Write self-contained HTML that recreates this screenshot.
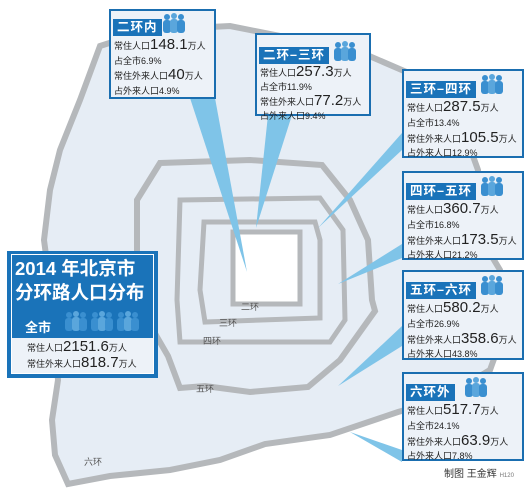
<!DOCTYPE html>
<html><head><meta charset="utf-8">
<style>
body{margin:0;width:530px;height:494px;overflow:hidden;background:#fff;font-family:"Liberation Sans","Noto Sans CJK SC",sans-serif;color:#222;}
#wrap{position:relative;width:530px;height:494px;}
svg{position:absolute;left:0;top:0;}
.box{position:absolute;background:#edf2f8;border:2px solid #1a6eb0;box-sizing:border-box;}
.hd{position:absolute;left:2px;top:8px;background:#1a73b9;color:#fff;font-weight:bold;font-size:12.5px;line-height:17px;padding:0 4px;letter-spacing:1px;}
.ic{position:absolute;top:2px;}
.ln{position:absolute;left:3px;font-size:9px;white-space:nowrap;line-height:12px;}
.ln b{font-weight:normal;font-size:15px;}
.ringlbl{position:absolute;font-size:9px;color:#555;}
</style></head><body>
<div id="wrap">
<svg width="530" height="494">
<defs>
<g id="ppl">
<circle cx="5" cy="4" r="3" fill="#3a8fd0"/><rect x="1" y="7" width="8" height="13" rx="3" fill="#3a8fd0"/>
<circle cx="12" cy="3" r="3" fill="#5aa6dc"/><rect x="8" y="6" width="8" height="14" rx="3" fill="#5aa6dc"/>
<circle cx="19" cy="4" r="3" fill="#3a8fd0"/><rect x="15" y="7" width="8" height="13" rx="3" fill="#3a8fd0"/>
</g>
</defs>
<path d="M100,46 L150,30 L230,26 L300,40 L360,52 L425,80 L460,120 L478,170 L482,240 L500,270 L508,320 L490,370 L440,400 L398,412 L330,435 L265,444 L220,460 L170,470 L110,476 L68,484 L55,455 L52,420 L58,380 L52,300 L44,240 L50,190 L60,150 L80,100 Z" fill="#e6edf5" stroke="#b5b8bb" stroke-width="6"/>
<path d="M160,163 L250,160 L322,165 L350,200 L368,240 L372,300 L375,311 L340,360 L308,387 L250,392 L205,386 L180,388 L168,356 L157,337 L137,300 L137,200 Z" fill="none" stroke="#b5b8bb" stroke-width="6"/>
<path d="M180,200 L320,198 L343,230 L345,320 L330,342 L180,342 L177,300 Z" fill="none" stroke="#b5b8bb" stroke-width="5"/>
<path d="M204,222 L315,222 L320,240 L320,318 L205,322 L200,290 Z" fill="none" stroke="#b5b8bb" stroke-width="5"/>
<rect x="233" y="232" width="67" height="72" fill="#fff" stroke="#b5b8bb" stroke-width="5"/>
<g fill="#7fc4e8">
<polygon points="190,98 215,98 247,272"/>
<polygon points="268,115 292,115 256,228"/>
<polygon points="402,133 402,150 318,228"/>
<polygon points="402,244 402,258 338,284"/>
<polygon points="402,326 402,346 338,386"/>
<polygon points="402,450 402,462 350,432"/>
</g>
</svg>
<div class="ringlbl" style="left:241px;top:300px">二环</div>
<div class="ringlbl" style="left:219px;top:316px">三环</div>
<div class="ringlbl" style="left:203px;top:334px">四环</div>
<div class="ringlbl" style="left:196px;top:382px">五环</div>
<div class="ringlbl" style="left:84px;top:455px">六环</div>

<div class="box" style="left:109px;top:9px;width:107px;height:90px">
<div class="hd">二环内</div>
<svg class="ic" style="left:51px" width="24" height="22"><use href="#ppl"/></svg>
<div class="ln" style="top:28px">常住人口<b>148.1</b>万人</div>
<div class="ln" style="top:44px">占全市6.9%</div>
<div class="ln" style="top:58px">常住外来人口<b>40</b>万人</div>
<div class="ln" style="top:74px">占外来人口4.9%</div>
</div>

<div class="box" style="left:255px;top:33px;width:116px;height:83px">
<div class="hd" style="top:12px">二环–三环</div>
<svg class="ic" style="left:76px;top:6px" width="24" height="22"><use href="#ppl"/></svg>
<div class="ln" style="top:31px">常住人口<b>257.3</b>万人</div>
<div class="ln" style="top:46px">占全市11.9%</div>
<div class="ln" style="top:60px">常住外来人口<b>77.2</b>万人</div>
<div class="ln" style="top:75px">占外来人口9.4%</div>
</div>

<div class="box" style="left:402px;top:69px;width:122px;height:89px">
<div class="hd" style="top:10px">三环–四环</div>
<svg class="ic" style="left:76px;top:3px" width="24" height="22"><use href="#ppl"/></svg>
<div class="ln" style="top:30px">常住人口<b>287.5</b>万人</div>
<div class="ln" style="top:46px">占全市13.4%</div>
<div class="ln" style="top:61px">常住外来人口<b>105.5</b>万人</div>
<div class="ln" style="top:76px">占外来人口12.9%</div>
</div>

<div class="box" style="left:402px;top:171px;width:122px;height:89px">
<div class="hd" style="top:10px">四环–五环</div>
<svg class="ic" style="left:76px;top:3px" width="24" height="22"><use href="#ppl"/></svg>
<div class="ln" style="top:30px">常住人口<b>360.7</b>万人</div>
<div class="ln" style="top:46px">占全市16.8%</div>
<div class="ln" style="top:61px">常住外来人口<b>173.5</b>万人</div>
<div class="ln" style="top:76px">占外来人口21.2%</div>
</div>

<div class="box" style="left:402px;top:270px;width:122px;height:90px">
<div class="hd" style="top:10px">五环–六环</div>
<svg class="ic" style="left:76px;top:3px" width="24" height="22"><use href="#ppl"/></svg>
<div class="ln" style="top:30px">常住人口<b>580.2</b>万人</div>
<div class="ln" style="top:46px">占全市26.9%</div>
<div class="ln" style="top:61px">常住外来人口<b>358.6</b>万人</div>
<div class="ln" style="top:76px">占外来人口43.8%</div>
</div>

<div class="box" style="left:402px;top:372px;width:122px;height:89px">
<div class="hd" style="top:10px">六环外</div>
<svg class="ic" style="left:60px;top:3px" width="24" height="22"><use href="#ppl"/></svg>
<div class="ln" style="top:30px">常住人口<b>517.7</b>万人</div>
<div class="ln" style="top:46px">占全市24.1%</div>
<div class="ln" style="top:61px">常住外来人口<b>63.9</b>万人</div>
<div class="ln" style="top:76px">占外来人口7.8%</div>
</div>

<div style="position:absolute;left:7px;top:251px;width:151px;height:127px;background:#1a73b9">
<div style="position:absolute;left:4px;top:3px;width:143px;height:120px;border:1px solid #fff;box-sizing:border-box"></div>
<div style="position:absolute;left:8px;top:6px;color:#fff;font-size:18.5px;font-weight:bold;line-height:24px;white-space:nowrap">2014 年北京市<br>分环路人口分布</div>
<div style="position:absolute;left:18px;top:66px;color:#fff;font-size:13px;font-weight:bold">全市</div>
<svg style="position:absolute;left:57px;top:60px" width="76" height="22"><use href="#ppl"/><use href="#ppl" x="26"/><use href="#ppl" x="52"/></svg>
<div style="position:absolute;left:5px;top:87px;width:141px;height:35px;background:#edf2f8"></div>
<div class="ln" style="left:20px;top:90px">常住人口<b>2151.6</b>万人</div>
<div class="ln" style="left:20px;top:106px">常住外来人口<b>818.7</b>万人</div>
</div>

<div style="position:absolute;left:444px;top:465px;font-size:10px;color:#333;white-space:nowrap">制图 王金辉 <span style="font-size:6px;color:#777">H120</span></div>
</div>
</body></html>
